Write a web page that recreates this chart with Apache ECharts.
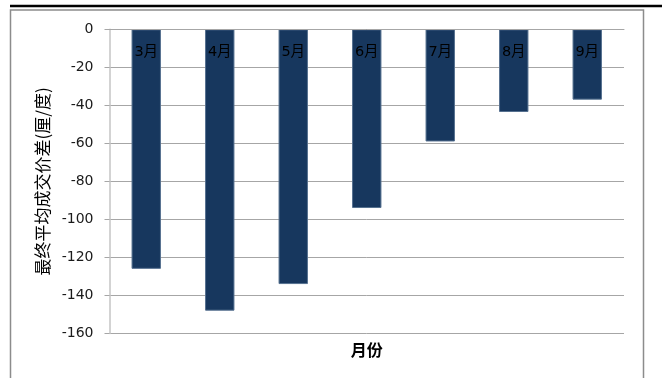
<!DOCTYPE html>
<html>
<head>
<meta charset="utf-8">
<script src="https://cdn.jsdelivr.net/npm/echarts@6/dist/echarts.min.js"></script>
<style>
  html, body { margin: 0; padding: 0; background: #fff; }
  #chart { width: 662px; height: 378px; }
</style>
</head>
<body>
<div id="chart"></div>
<script>
// Monthly categories and the final average price spread for each month
const months = ['3月', '4月', '5月', '6月', '7月', '8月', '9月'];
const spread = [-126, -148, -134, -94, -59, -43.5, -37];

// Value axis range
const yMin = -160;
const yMax = 0;
const yStep = 20;

const latin = '"DejaVu Sans", "Noto Sans CJK SC", sans-serif';
const cjk = '"Noto Sans CJK SC", "DejaVu Sans", sans-serif';

const chart = echarts.init(document.getElementById('chart'), null, { renderer: 'canvas' });

chart.setOption({
  animation: false,
  backgroundColor: '#ffffff',
  graphic: [
    // heavy rule across the top of the page
    {
      type: 'line',
      shape: { x1: 10, y1: 6, x2: 662, y2: 6 },
      style: { stroke: '#000000', lineWidth: 2.5 },
      silent: true
    },
    // chart frame
    {
      type: 'rect',
      shape: { x: 10.5, y: 10, width: 633, height: 400 },
      style: { fill: 'none', stroke: '#8c8c8c', lineWidth: 1.5 },
      silent: true
    }
  ],
  grid: {
    left: 109.5,
    right: 38,
    top: 29.3,
    bottom: 44.5,
    containLabel: false
  },
  xAxis: [
    {
      // category axis sits on the zero line, month labels hang inside the bars
      type: 'category',
      data: months,
      position: 'top',
      z: 3,
      axisLine: { show: true, onZero: false, lineStyle: { color: '#a6a6a6', width: 1 } },
      axisTick: { show: false },
      axisLabel: {
        show: true,
        inside: true,
        margin: 16,
        color: '#000000',
        fontSize: 14.5,
        fontFamily: latin
      },
      splitLine: { show: false }
    },
    {
      // carries the axis title under the plot
      type: 'category',
      data: months,
      position: 'bottom',
      axisLine: { show: false, onZero: false },
      axisTick: { show: false },
      axisLabel: { show: false },
      splitLine: { show: false },
      name: '月份',
      nameLocation: 'middle',
      nameGap: 8,
      nameTextStyle: {
        color: '#000000',
        fontSize: 16,
        fontWeight: 'bold',
        fontFamily: cjk,
        verticalAlign: 'top'
      }
    }
  ],
  yAxis: {
    type: 'value',
    min: yMin,
    max: yMax,
    interval: yStep,
    axisLine: { show: true, lineStyle: { color: '#c4c4c4', width: 1.5 } },
    axisTick: { show: true, inside: false, length: 5, lineStyle: { color: '#a6a6a6' } },
    axisLabel: {
      margin: 16,
      color: '#1a1a1a',
      fontSize: 14,
      fontFamily: latin
    },
    splitLine: { show: true, lineStyle: { color: '#a6a6a6', width: 1 } },
    name: '最终平均成交价差(厘/度)',
    nameLocation: 'middle',
    nameGap: 57,
    nameRotate: 90,
    nameTextStyle: {
      color: '#000000',
      fontSize: 17,
      fontFamily: cjk
    }
  },
  series: [
    {
      type: 'bar',
      xAxisIndex: 0,
      data: spread,
      barWidth: '40%',
      itemStyle: {
        color: '#17375E',
        borderColor: '#55708f',
        borderWidth: 1
      },
      z: 2
    }
  ]
});
</script>
</body>
</html>
